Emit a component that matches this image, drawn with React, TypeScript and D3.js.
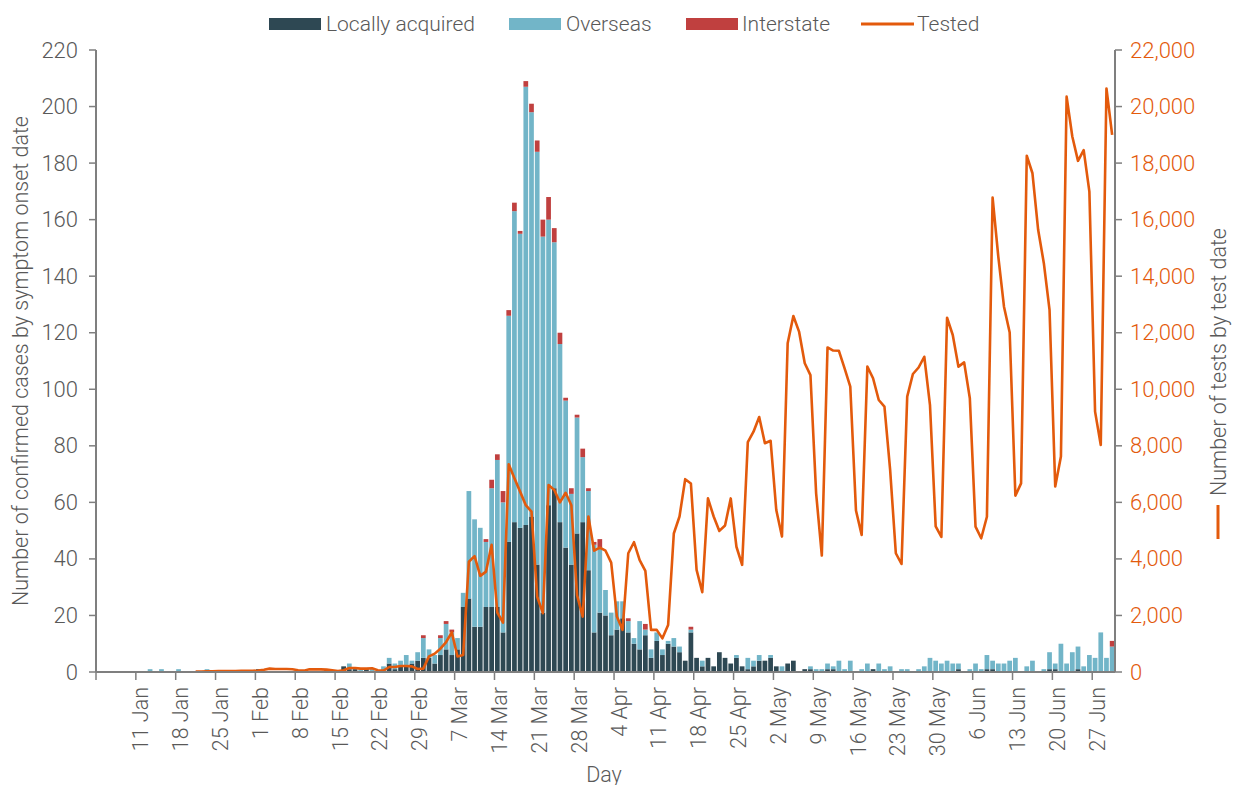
import React from "react";
import * as d3 from "d3";

// ---------- DATA (one value per day, 4 Jan 2020 -> 30 Jun 2020) ----------
const firstDay = new Date(2020, 0, 4);
const lastDayExclusive = new Date(2020, 6, 1);

const localAcquired: number[] = [
  0, 0, 0, 0, 0, 0, 0, 0, 0, 0, // 4-13 Jan
  0, 0, 0, 0, 0, 0, 0, 0, 0, 0,
  0, 0, 0, 0, 0, 0, 0, 0, 1, 0,
  0, 0, 0, 0, 0, 0, 0, 0, 0, 0,
  1, 0, 0, 2, 1, 1, 0, 1, 0, 0,
  0, 3, 1, 2, 2, 3, 4, 5, 5, 3,
  6, 8, 6, 8, 23, 26, 16, 16, 23, 23,
  23, 14, 46, 53, 51, 52, 55, 38, 21, 59,
  65, 53, 44, 38, 49, 53, 36, 14, 21, 20,
  13, 15, 19, 14, 10, 8, 13, 5, 11, 6,
  10, 9, 7, 4, 14, 5, 2, 5, 2, 7,
  5, 3, 5, 2, 1, 2, 4, 4, 5, 2,
  0, 3, 4, 0, 1, 1, 0, 0, 1, 1,
  0, 0, 0, 0, 0, 0, 1, 0, 0, 0,
  0, 0, 0, 0, 0, 0, 0, 0, 0, 0,
  0, 1, 0, 0, 0, 0, 1, 1, 0, 0,
  0, 0, 0, 0, 0, 0, 0, 1, 1, 0,
  0, 0, 1, 0, 0, 0, 0, 0, 0,
];

const overseas: number[] = [
  0, 0, 0, 0, 0, 0, 0, 0, 0, 1,
  0, 1, 0, 0, 1, 0, 0, 0, 0, 1,
  0, 0, 0, 0, 0, 0, 0, 0, 0, 0,
  0, 0, 0, 0, 0, 0, 0, 0, 0, 0,
  0, 0, 0, 0, 2, 0, 1, 0, 1, 0,
  2, 2, 2, 2, 4, 1, 3, 7, 3, 3,
  6, 9, 8, 4, 5, 38, 38, 35, 23, 42,
  52, 46, 80, 110, 104, 155, 143, 146, 133, 101,
  87, 63, 52, 25, 41, 23, 28, 31, 23, 9,
  8, 10, 6, 4, 2, 10, 2, 3, 3, 2,
  1, 3, 2, 0, 1, 0, 2, 0, 0, 0,
  0, 0, 1, 0, 4, 2, 2, 0, 1, 0,
  2, 0, 0, 0, 0, 1, 1, 1, 2, 1,
  4, 1, 4, 0, 1, 3, 0, 3, 1, 2,
  0, 1, 1, 0, 1, 2, 5, 4, 3, 4,
  3, 2, 0, 1, 3, 1, 5, 3, 3, 3,
  4, 5, 0, 2, 4, 0, 1, 6, 2, 10,
  3, 7, 8, 2, 6, 5, 14, 5, 9,
];

const interstate: number[] = [
  0, 0, 0, 0, 0, 0, 0, 0, 0, 0,
  0, 0, 0, 0, 0, 0, 0, 0, 0, 0,
  0, 0, 0, 0, 0, 0, 0, 0, 0, 0,
  0, 0, 0, 0, 0, 0, 0, 0, 0, 0,
  0, 0, 0, 0, 0, 0, 0, 0, 0, 0,
  0, 0, 0, 0, 0, 0, 0, 1, 0, 0,
  1, 1, 1, 0, 0, 0, 0, 0, 1, 3,
  2, 4, 2, 3, 1, 2, 3, 4, 6, 8,
  5, 4, 1, 2, 1, 3, 1, 1, 3, 0,
  0, 0, 0, 1, 0, 0, 2, 0, 0, 0,
  0, 0, 0, 0, 1, 0, 0, 0, 0, 0,
  0, 0, 0, 0, 0, 0, 0, 0, 0, 0,
  0, 0, 0, 0, 0, 0, 0, 0, 0, 0,
  0, 0, 0, 0, 0, 0, 0, 0, 0, 0,
  0, 0, 0, 0, 0, 0, 0, 0, 0, 0,
  0, 0, 0, 0, 0, 0, 0, 0, 0, 0,
  0, 0, 0, 0, 0, 0, 0, 0, 0, 0,
  0, 0, 0, 0, 0, 0, 0, 0, 2,
];

const tested: (number | null)[] = [
  null, null, null, null, null, null, null, null, null, null,
  null, null, null, null, null, null, null, 20, 20, 25,
  25, 30, 30, 35, 35, 40, 40, 45, 50, 80,
  120, 105, 105, 105, 95, 60, 47, 94, 94, 94,
  83, 60, 35, 60, 140, 140, 118, 118, 130, 60,
  47, 177, 177, 212, 212, 200, 106, 118, 554, 650,
  825, 1060, 1400, 550, 600, 3900, 4100, 3400, 3550, 4500,
  2100, 1750, 7350, 6850, 6380, 5900, 5670, 2660, 2080, 6610,
  6440, 6000, 6340, 5900, 2720, 1960, 5500, 4290, 4400, 4290,
  3870, 1960, 1490, 4200, 4590, 3960, 3580, 1490, 1490, 1190,
  1660, 4900, 5500, 6820, 6670, 3610, 2820, 6140, 5500, 4990,
  5180, 6140, 4430, 3790, 8130, 8500, 9020, 8090, 8180, 5730,
  4790, 11630, 12590, 12040, 10920, 10500, 6320, 4120, 11480, 11370,
  11360, 10740, 10090, 5710, 4850, 10800, 10390, 9620, 9390, 7150,
  4200, 3820, 9740, 10540, 10770, 11150, 9440, 5150, 4780, 12530,
  11920, 10800, 10950, 9680, 5140, 4730, 5490, 16780, 14690, 12920,
  12010, 6240, 6670, 18260, 17640, 15640, 14460, 12810, 6560, 7620,
  20350, 18940, 18080, 18460, 16990, 9210, 8030, 20640, 19000,
];

const xTickLabels = [
  "11 Jan", "18 Jan", "25 Jan", "1 Feb", "8 Feb", "15 Feb", "22 Feb", "29 Feb",
  "7 Mar", "14 Mar", "21 Mar", "28 Mar", "4 Apr", "11 Apr", "18 Apr", "25 Apr",
  "2 May", "9 May", "16 May", "23 May", "30 May", "6 Jun", "13 Jun", "20 Jun", "27 Jun",
];
const leftTicks = [0, 20, 40, 60, 80, 100, 120, 140, 160, 180, 200, 220];
const rightTicks = [0, 2000, 4000, 6000, 8000, 10000, 12000, 14000, 16000, 18000, 20000, 22000];

const seriesKeys = ["local", "overseas", "interstate"] as const;
const seriesNames = ["Locally acquired", "Overseas", "Interstate"];

// ---------- STYLE ----------
const W = 1239;
const H = 785;
const PLOT = { left: 96, right: 1115, top: 50, bottom: 672 };
const FONT = "Roboto, 'Liberation Sans', Arial, sans-serif";
const GREY = "#595959";
const AXIS = "#7f7f7f";
const COLORS = ["#2e4853", "#72b5c8", "#c0403f"];
const C_TEST = "#e35a0c";

export default function App() {
  const days = d3.timeDay.range(firstDay, lastDayExclusive);
  const rows = days.map((d, i) => ({
    date: d,
    local: localAcquired[i] ?? 0,
    overseas: overseas[i] ?? 0,
    interstate: interstate[i] ?? 0,
    tested: tested[i] ?? null,
  }));

  const pad = 0.17;
  const x = d3
    .scaleBand<number>()
    .domain(rows.map((r) => +r.date))
    .range([PLOT.left, PLOT.right])
    .paddingInner(pad)
    .paddingOuter(pad / 2);
  const half = (x.step() - x.bandwidth()) / 2;

  const yL = d3.scaleLinear().domain([0, 220]).range([PLOT.bottom, PLOT.top]);
  const yR = d3.scaleLinear().domain([0, 22000]).range([PLOT.bottom, PLOT.top]);

  const stack = d3.stack<any>().keys(seriesKeys as unknown as string[]);
  const stacked = stack(rows);

  const line = d3
    .line<any>()
    .defined((r) => r.tested !== null)
    .x((r) => (x(+r.date) as number) + x.bandwidth() / 2)
    .y((r) => yR(r.tested));

  const parse = d3.timeParse("%d %b %Y");
  const xTicks = xTickLabels.map((lab) => {
    const d = parse(lab + " 2020") as Date;
    return { lab, x: (x(+d) as number) - half };
  });

  const legendItems = [
    { name: seriesNames[0], color: COLORS[0], x: 269, tx: 326 },
    { name: seriesNames[1], color: COLORS[1], x: 509, tx: 566 },
    { name: seriesNames[2], color: COLORS[2], x: 686, tx: 742 },
  ];

  const TICK_FS = 22;
  const TITLE_FS = 21.5;
  const LEG_FS = 21;
  const XLAB_FS = 21.5;

  return (
    <svg
      width={W}
      height={H}
      style={{ position: "absolute", left: 0, top: 0, background: "#fff" }}
      fontFamily={FONT}
    >
      {/* bars */}
      {stacked.map((s, si) => (
        <g key={si} fill={COLORS[si]}>
          {s.map((d, i) =>
            d[1] - d[0] > 0 ? (
              <rect
                key={i}
                x={x(+rows[i].date)}
                width={x.bandwidth()}
                y={yL(d[1])}
                height={yL(d[0]) - yL(d[1])}
              />
            ) : null
          )}
        </g>
      ))}

      {/* tested line */}
      <path d={line(rows) || ""} fill="none" stroke={C_TEST} strokeWidth={2.6} strokeLinejoin="round" />

      {/* left axis */}
      <line x1={PLOT.left} x2={PLOT.left} y1={PLOT.top} y2={PLOT.bottom} stroke={AXIS} strokeWidth={2} />
      {leftTicks.map((t) => (
        <g key={t}>
          <line x1={PLOT.left - 7} x2={PLOT.left} y1={yL(t)} y2={yL(t)} stroke={AXIS} strokeWidth={1.5} />
          <text x={78} y={yL(t)} textAnchor="end" dominantBaseline="central" fontSize={TICK_FS} fill={GREY} fontWeight={300}>
            {t}
          </text>
        </g>
      ))}
      <text
        transform={`translate(20,${(PLOT.top + PLOT.bottom) / 2}) rotate(-90)`}
        textAnchor="middle"
        dominantBaseline="central"
        fontSize={TITLE_FS}
        fill={GREY}
        fontWeight={300}
      >
        Number of confirmed cases by symptom onset date
      </text>

      {/* right axis */}
      <line x1={PLOT.right} x2={PLOT.right} y1={PLOT.top} y2={PLOT.bottom} stroke={AXIS} strokeWidth={2} />
      {rightTicks.map((t) => (
        <g key={t}>
          <line x1={PLOT.right} x2={PLOT.right + 7} y1={yR(t)} y2={yR(t)} stroke={AXIS} strokeWidth={1.5} />
          <text x={1130} y={yR(t)} textAnchor="start" dominantBaseline="central" fontSize={TICK_FS} fill={C_TEST} fontWeight={300}>
            {d3.format(",")(t)}
          </text>
        </g>
      ))}
      <text
        transform={`translate(1218,362) rotate(-90)`}
        textAnchor="middle"
        dominantBaseline="central"
        fontSize={TITLE_FS}
        fill={GREY}
        fontWeight={300}
      >
        Number of tests by test date
      </text>
      <line x1={1218} x2={1218} y1={505} y2={539} stroke={C_TEST} strokeWidth={3} />

      {/* x axis */}
      <line x1={PLOT.left} x2={PLOT.right} y1={PLOT.bottom} y2={PLOT.bottom} stroke={AXIS} strokeWidth={2} />
      <line x1={PLOT.left} x2={PLOT.left} y1={PLOT.bottom} y2={PLOT.bottom + 8} stroke={AXIS} strokeWidth={1.5} />
      {xTicks.map((t) => (
        <g key={t.lab}>
          <line x1={t.x} x2={t.x} y1={PLOT.bottom} y2={PLOT.bottom + 8} stroke={AXIS} strokeWidth={1.5} />
          <text
            transform={`translate(${t.x + 5},687) rotate(-90)`}
            textAnchor="end"
            dominantBaseline="central"
            fontSize={XLAB_FS}
            fill={GREY}
            fontWeight={300}
          >
            {t.lab}
          </text>
        </g>
      ))}
      <text x={604} y={774} textAnchor="middle" dominantBaseline="central" fontSize={TITLE_FS} fill={GREY} fontWeight={300}>
        Day
      </text>

      {/* legend */}
      {legendItems.map((l) => (
        <g key={l.name}>
          <rect x={l.x} y={18} width={52} height={12} fill={l.color} />
          <text x={l.tx} y={24} dominantBaseline="central" fontSize={LEG_FS} fill={GREY} fontWeight={300}>
            {l.name}
          </text>
        </g>
      ))}
      <line x1={861} x2={914} y1={24} y2={24} stroke={C_TEST} strokeWidth={3} />
      <text x={917} y={24} dominantBaseline="central" fontSize={LEG_FS} fill={GREY} fontWeight={300}>
        Tested
      </text>
    </svg>
  );
}
